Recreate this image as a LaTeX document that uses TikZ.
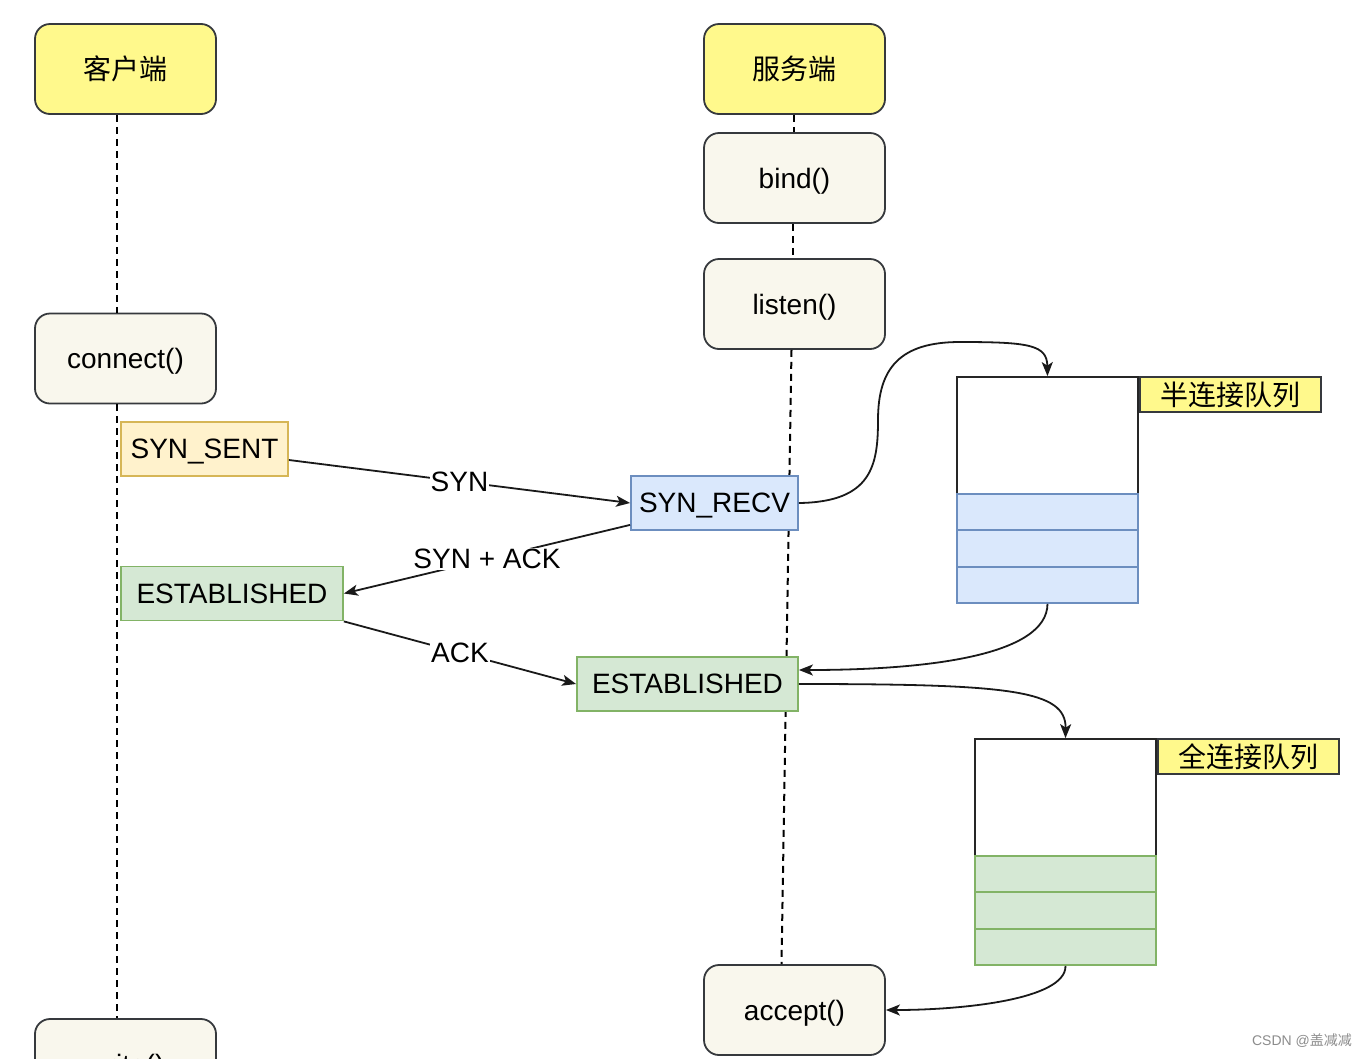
\documentclass[tikz,border=0pt]{standalone}
\usepackage{fontspec}
\setmainfont{Liberation Sans}
\newfontfamily\cjk{Noto Sans CJK SC}
\usepackage{xcolor}
\usepackage{tikz}
\usetikzlibrary{positioning}
\usetikzlibrary{arrows.meta,calc}
\definecolor{darkStroke}{HTML}{36393D}
\definecolor{roleFill}{HTML}{FFF98C}
\definecolor{callFill}{HTML}{F9F7ED}
\definecolor{sentFill}{HTML}{FFF2CC}
\definecolor{sentStroke}{HTML}{D6B656}
\definecolor{recvFill}{HTML}{DAE8FC}
\definecolor{recvStroke}{HTML}{6C8EBF}
\definecolor{estFill}{HTML}{D5E8D4}
\definecolor{estStroke}{HTML}{82B366}
\newcommand{\diagfont}{\fontsize{28}{34}\selectfont}
\tikzset{%
  % ---------------
  % roles and calls
  % ---------------
  role/.style={rectangle, rounded corners=15pt, draw=darkStroke, fill=roleFill, line width=1.8pt, minimum width=181pt, minimum height=90pt, inner sep=0pt, font=\diagfont\cjk},
  call/.style={rectangle, rounded corners=15pt, draw=darkStroke, fill=callFill, line width=1.8pt, minimum width=181pt, minimum height=90pt, inner sep=0pt, text depth=0pt, font=\diagfont},
  lifeline/.style={draw=black, line width=2pt, dash pattern=on 7pt off 5pt},
  % ----------------
  % connection states
  % ----------------
  stateSent/.style={rectangle, draw=sentStroke, fill=sentFill, line width=1.8pt, minimum width=167pt, minimum height=54pt, inner sep=0pt, text depth=0pt, font=\diagfont},
  stateRecv/.style={rectangle, draw=recvStroke, fill=recvFill, line width=1.8pt, minimum width=167pt, minimum height=54pt, inner sep=0pt, text depth=0pt, font=\diagfont},
  stateEst/.style={rectangle, draw=estStroke, fill=estFill, line width=1.8pt, minimum width=221pt, minimum height=54pt, inner sep=0pt, font=\diagfont},
  % ------
  % queues
  % ------
  queueBody/.style={rectangle, draw=black!85, fill=white, line width=1.8pt, minimum width=181pt, minimum height=117pt, inner sep=0pt},
  queueCell/.style={rectangle, line width=1.8pt, minimum width=181pt, minimum height=36.33pt, inner sep=0pt},
  queueLabel/.style={rectangle, draw=darkStroke, fill=roleFill, line width=1.8pt, minimum width=181pt, minimum height=35pt, inner sep=0pt, font=\diagfont\cjk},
  % ---------
  % messages
  % ---------
  msg/.style={draw=black!90, line width=1.8pt, -{Stealth[length=14pt,width=11pt,inset=3.5pt]}},
  edgeLabel/.style={fill=white, inner sep=1pt, font=\diagfont},
  watermark/.style={text=black!45, font=\fontsize{14}{16}\selectfont}
}

\begin{document}
\begin{tikzpicture}[x=1pt,y=-1pt]
    \useasboundingbox[fill=white] (0,0) rectangle (1368,1058);

    \node[role] (client) at (125.5,69) {客户端};
    \node[role] (server) at (794.5,69) {服务端};
    \node[call] (bind) at (794.5,178) {bind()};
    \node[call] (listen) at (794.5,304) {listen()};
    \node[call] (connect) at (125.5,358.5) {connect()};
    \node[call] (accept) at (794.5,1010) {accept()};
    \node[call] (write) at (125.5,1064) {write()};

    % lifelines
    \draw[lifeline] ([xshift=-9pt]client.south) -- ([xshift=-9pt]connect.north);
    \draw[lifeline] ([xshift=-9pt]connect.south) -- ([xshift=-9pt]write.north);
    \draw[lifeline] ([xshift=-1pt]server.south) -- ([xshift=-1pt]bind.north);
    \draw[lifeline] ([xshift=-2pt]bind.south) -- ([xshift=-2pt]listen.north);
    \draw[lifeline] ([xshift=-3pt]listen.south) -- ([xshift=-13pt]accept.north);

    \node[stateSent] (synSent) at (204.5,449) {SYN\_SENT};
    \node[stateRecv] (synRecv) at (714.5,503) {SYN\_RECV};
    \node[stateEst, minimum width=222pt] (estClient) at (232,593.5) {ESTABLISHED};
    \node[stateEst] (estServer) at (687.5,684) {ESTABLISHED};

    % half and full queue
    \node[queueBody] (halfQueue) at (1047.5,435.5) {};
    \node[queueLabel, anchor=north west] (halfLabel) at (halfQueue.north east) {半连接队列};
    \foreach \i in {1,2,3}
        \node[queueCell, draw=recvStroke, fill=recvFill] (half\i) at (1047.5,{494+36.33*(\i-0.5)}) {};

    \node[queueBody] (fullQueue) at (1065.5,797.5) {};
    \node[queueLabel, anchor=north west] (fullLabel) at (fullQueue.north east) {全连接队列};
    \foreach \i in {1,2,3}
        \node[queueCell, draw=estStroke, fill=estFill] (full\i) at (1065.5,{856+36.33*(\i-0.5)}) {};

    \draw[msg] ([yshift=-11pt]synSent.east) -- node[edgeLabel]{SYN} (synRecv.west);
    \draw[msg] ([yshift=6pt]synRecv.south west) -- node[edgeLabel]{SYN + ACK} (estClient.east);
    \draw[msg] (estClient.south east) -- node[edgeLabel]{ACK} (estServer.west);

    \draw[msg] (synRecv.east) .. controls (872,502) and (878,465) .. (878,420) .. controls (878,368) and (900,342) .. (960,342) .. controls (1030,342) and (1047,345) .. (halfQueue.north);
    \draw[msg] (half3.south) .. controls (1047,655) and (930,670) .. ([yshift=14pt]estServer.east);
    \draw[msg] (estServer.east) .. controls (1010,684) and (1066,690) .. (fullQueue.north);
    \draw[msg] (full3.south) .. controls (1066,1000) and (960,1010) .. (accept.east);

    \node[watermark] (credit) at (1302,1041) {CSDN @{\cjk 盖减减}};
\end{tikzpicture}
\end{document}
